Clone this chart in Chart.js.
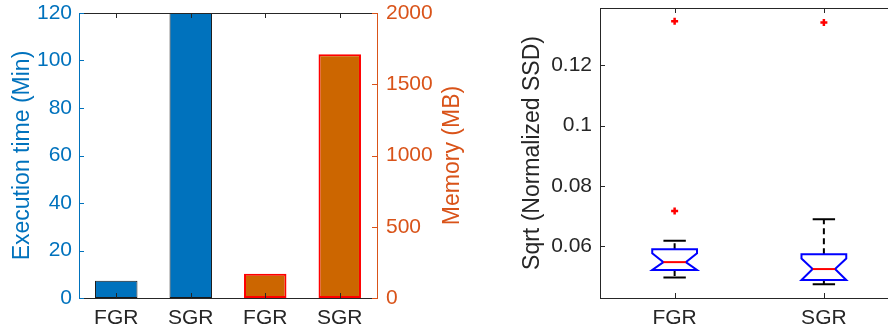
<!DOCTYPE html>
<html>
<head>
<meta charset="utf-8">
<script src="https://cdn.jsdelivr.net/npm/chart.js@4/dist/chart.umd.min.js"></script>
<style>
  html, body { margin: 0; padding: 0; background: #fff; overflow: hidden; }
  #wrap { position: relative; width: 888px; height: 329px; overflow: hidden; }
  #costChart { position: absolute; left: 0; top: 0; }
  #ssdChart { position: absolute; left: 505px; top: 0; }
</style>
</head>
<body>
<div id="wrap">
  <canvas id="costChart" width="470" height="329"></canvas>
  <canvas id="ssdChart" width="400" height="329"></canvas>
</div>
<script>
// left panel: run cost per method
const methods = ['FGR', 'SGR'];
const execTimeMin = [7.3, 120];
const memoryMB = [170, 1710];
const timeAxisTitle = 'Execution time (Min)';
const memoryAxisTitle = 'Memory (MB)';

// right panel: box plot of sqrt(normalized SSD)
const ssdGroups = ['FGR', 'SGR'];
const ssdWhiskerLow = [0.0496, 0.0474];
const ssdQ1 = [0.0521, 0.0488];
const ssdMedian = [0.0547, 0.0524];
const ssdQ3 = [0.0590, 0.0573];
const ssdWhiskerHigh = [0.0618, 0.0689];
const ssdNotchLow = [0.0521, 0.0488];
const ssdNotchHigh = [0.0576, 0.0559];
const ssdOutliers = [[0.0717, 0.1346], [0.1342]];
const ssdTicks = [0.06, 0.08, 0.1, 0.12];

const INK = '#262626';
const BLUE = '#0072BD';
const ORANGE = '#D95319';

Chart.defaults.font.family = '"Liberation Sans", Arial, Helvetica, sans-serif';
Chart.defaults.animation = false;

// top spine + inward tick marks, matlab style
const matlabFrame = {
	id: 'matlabFrame',
	afterDraw(chart) {
		const ctx = chart.ctx;
		const a = chart.chartArea;
		const len = 5;
		ctx.save();
		ctx.lineWidth = 1;
		ctx.strokeStyle = INK;
		ctx.beginPath();
		ctx.moveTo(a.left, a.top + 0.5);
		ctx.lineTo(a.right, a.top + 0.5);
		ctx.stroke();
		Object.values(chart.scales).forEach(s => {
			ctx.strokeStyle = s.options.border.color;
			ctx.beginPath();
			s.ticks.forEach((t, i) => {
				const p = Math.round(s.getPixelForTick(i)) + 0.5;
				if (s.axis === 'x') {
					ctx.moveTo(p, a.bottom);
					ctx.lineTo(p, a.bottom - len);
					ctx.moveTo(p, a.top);
					ctx.lineTo(p, a.top + len);
				} else if (s.position === 'left') {
					ctx.moveTo(a.left, p);
					ctx.lineTo(a.left + len, p);
				} else {
					ctx.moveTo(a.right, p);
					ctx.lineTo(a.right - len, p);
				}
			});
			ctx.stroke();
		});
		ctx.restore();
	}
};

// right axis title reading bottom-to-top like the left one
const memoryTitle = {
	id: 'memoryTitle',
	afterDraw(chart) {
		const ctx = chart.ctx;
		const s = chart.scales.y2;
		const a = chart.chartArea;
		ctx.save();
		ctx.translate(s.right - 17, (a.top + a.bottom) / 2);
		ctx.rotate(-Math.PI / 2);
		ctx.font = '23px "Liberation Sans", Arial, sans-serif';
		ctx.fillStyle = ORANGE;
		ctx.textAlign = 'center';
		ctx.textBaseline = 'middle';
		ctx.fillText(memoryAxisTitle, 0, 0);
		ctx.restore();
	}
};

const boxPlot = {
	id: 'boxPlot',
	afterDatasetsDraw(chart) {
		const ctx = chart.ctx;
		const x = chart.scales.x;
		const y = chart.scales.y;
		ctx.save();
		ssdGroups.forEach((g, i) => {
			const cx = x.getPixelForValue(i + 1);
			const half = x.getPixelForValue(i + 1.15) - cx;
			const inner = half / 2;
			const py = v => y.getPixelForValue(v);

			// whiskers
			ctx.lineWidth = 2;
			ctx.strokeStyle = '#000';
			ctx.setLineDash([6, 4]);
			ctx.beginPath();
			ctx.moveTo(cx, py(ssdQ3[i]));
			ctx.lineTo(cx, py(ssdWhiskerHigh[i]));
			ctx.moveTo(cx, py(ssdQ1[i]));
			ctx.lineTo(cx, py(ssdWhiskerLow[i]));
			ctx.stroke();
			ctx.setLineDash([]);
			ctx.beginPath();
			ctx.moveTo(cx - inner, py(ssdWhiskerHigh[i]));
			ctx.lineTo(cx + inner, py(ssdWhiskerHigh[i]));
			ctx.moveTo(cx - inner, py(ssdWhiskerLow[i]));
			ctx.lineTo(cx + inner, py(ssdWhiskerLow[i]));
			ctx.stroke();

			// notched box
			ctx.strokeStyle = '#0000FF';
			ctx.beginPath();
			ctx.moveTo(cx - half, py(ssdQ3[i]));
			ctx.lineTo(cx + half, py(ssdQ3[i]));
			ctx.lineTo(cx + half, py(ssdNotchHigh[i]));
			ctx.lineTo(cx + inner, py(ssdMedian[i]));
			ctx.lineTo(cx + half, py(ssdNotchLow[i]));
			ctx.lineTo(cx + half, py(ssdQ1[i]));
			ctx.lineTo(cx - half, py(ssdQ1[i]));
			ctx.lineTo(cx - half, py(ssdNotchLow[i]));
			ctx.lineTo(cx - inner, py(ssdMedian[i]));
			ctx.lineTo(cx - half, py(ssdNotchHigh[i]));
			ctx.closePath();
			ctx.stroke();

			// median
			ctx.strokeStyle = '#FF0000';
			ctx.beginPath();
			ctx.moveTo(cx - inner, py(ssdMedian[i]));
			ctx.lineTo(cx + inner, py(ssdMedian[i]));
			ctx.stroke();
		});
		ctx.restore();
	}
};

const fixedSize = (prop, val) => s => {
	s[prop] = val;
	s.paddingTop = 0;
	s.paddingBottom = 0;
};

new Chart(document.getElementById('costChart'), {
	type: 'bar',
	data: {
		labels: methods.concat(methods),
		datasets: [{
			data: execTimeMin.concat(methods.map(() => null)),
			yAxisID: 'y',
			backgroundColor: BLUE,
			borderColor: '#1a1a1a',
			borderWidth: 1,
			borderSkipped: false,
			grouped: false,
			barPercentage: 0.57,
			categoryPercentage: 1
		}, {
			data: methods.map(() => null).concat(memoryMB),
			yAxisID: 'y2',
			backgroundColor: '#CC6600',
			borderColor: '#FF0000',
			borderWidth: 2,
			borderSkipped: false,
			grouped: false,
			barPercentage: 0.57,
			categoryPercentage: 1
		}]
	},
	options: {
		responsive: false,
		layout: { padding: { top: 13 } },
		plugins: { legend: { display: false }, tooltip: { enabled: false } },
		scales: {
			x: {
				grid: { display: false, drawTicks: false },
				border: { color: INK, width: 1 },
				ticks: { color: INK, font: { size: 21 }, padding: 8 },
				afterFit: fixedSize('height', 31)
			},
			y: {
				position: 'left',
				min: 0,
				max: 120,
				grid: { display: false, drawTicks: false },
				border: { color: BLUE, width: 1 },
				ticks: { stepSize: 20, color: BLUE, font: { size: 21 }, padding: 7, callback: v => String(v) },
				title: { display: true, text: timeAxisTitle, color: BLUE, font: { size: 23 }, padding: { top: 9, bottom: 0 } },
				afterFit: fixedSize('width', 79)
			},
			y2: {
				position: 'right',
				min: 0,
				max: 2000,
				grid: { display: false, drawTicks: false },
				border: { color: ORANGE, width: 1 },
				ticks: { stepSize: 500, color: ORANGE, font: { size: 21 }, padding: 9, callback: v => String(v) },
				afterFit: fixedSize('width', 93)
			}
		}
	},
	plugins: [matlabFrame, memoryTitle]
});

new Chart(document.getElementById('ssdChart'), {
	type: 'scatter',
	data: {
		datasets: [{
			data: ssdOutliers.flatMap((list, i) => list.map(v => ({ x: i + 1, y: v }))),
			pointStyle: 'cross',
			radius: 3.5,
			borderColor: '#FF0000',
			borderWidth: 2.5
		}]
	},
	options: {
		responsive: false,
		layout: { padding: { top: 8, right: 6 } },
		plugins: { legend: { display: false }, tooltip: { enabled: false } },
		scales: {
			x: {
				type: 'linear',
				min: 0.5,
				max: 2.5,
				afterBuildTicks: s => { s.ticks = ssdGroups.map((g, i) => ({ value: i + 1 })); },
				grid: { display: false, drawTicks: false },
				border: { color: INK, width: 1 },
				ticks: { color: INK, font: { size: 21 }, padding: 8, callback: v => ssdGroups[v - 1] },
				afterFit: fixedSize('height', 31)
			},
			y: {
				min: 0.0428,
				max: 0.139,
				afterBuildTicks: s => { s.ticks = ssdTicks.map(v => ({ value: v })); },
				grid: { display: false, drawTicks: false },
				border: { color: INK, width: 1 },
				ticks: { color: INK, font: { size: 21 }, padding: 8, callback: v => String(v) },
				title: { display: true, text: 'Sqrt (Normalized SSD)', color: INK, font: { size: 23 }, padding: { top: 14, bottom: 0 } },
				afterFit: fixedSize('width', 95)
			}
		}
	},
	plugins: [matlabFrame, boxPlot]
});
</script>
</body>
</html>
